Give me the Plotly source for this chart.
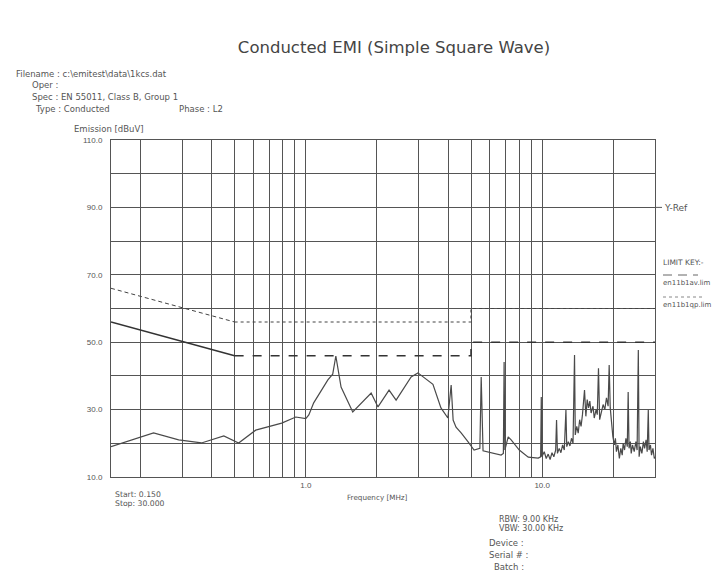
import plotly.graph_objects as go

# ---------------- data ----------------
emi_freq = [0.150, 0.227, 0.29, 0.362, 0.45, 0.52, 0.614, 0.791, 0.907, 1.0, 1.03, 1.08, 1.24, 1.30, 1.34,
            1.41, 1.58, 1.89, 2.02, 2.25, 2.41, 2.79, 2.98, 3.45, 3.73, 3.99, 4.12, 4.20, 4.32, 4.54, 4.86,
            5.15, 5.45, 5.52, 5.62, 6.26, 6.70, 6.85, 6.90, 6.95, 7.18, 7.39, 8.0, 8.73, 9.62, 9.85, 9.91,
            9.97, 10.2, 10.4, 10.6, 10.8, 11.0, 11.2, 11.4, 11.5, 11.6, 11.8, 12.0, 12.2, 12.4, 12.6, 12.7,
            12.9, 13.1, 13.3, 13.5, 13.7, 13.8, 14.0, 14.2, 14.4, 14.6, 14.8, 15.1, 15.3, 15.5, 15.7, 15.9,
            16.1, 16.4, 16.6, 16.9, 17.1, 17.3, 17.5, 17.8, 18.1, 18.4, 18.7, 19.0, 19.2, 19.4, 19.6, 19.9,
            20.2, 20.4, 20.6, 20.9, 21.2, 21.5, 21.8, 22.0, 22.3, 22.6, 22.9, 23.1, 23.3, 23.6, 23.8, 24.1,
            24.5, 24.9, 25.2, 25.5, 25.7, 26.0, 26.4, 26.8, 27.1, 27.5, 27.8, 28.1, 28.3, 28.7, 29.0, 29.4,
            29.8, 30.0]
emi_dbuv = [19.0, 23.1, 21.0, 20.1, 22.2, 20.1, 23.9, 26.0, 27.8, 27.3, 28.4, 32.0, 38.8, 40.5, 45.9,
            36.7, 29.3, 34.9, 30.8, 35.8, 32.8, 39.7, 40.9, 37.5, 30.5, 27.5, 37.3, 26.9, 24.8, 23.1, 20.4,
            18.0, 18.5, 39.7, 17.8, 17.1, 16.5, 17.0, 44.1, 18.0, 21.9, 21.0, 18.0, 15.9, 15.6, 16.0, 33.7,
            16.0, 17.5, 15.5, 16.8, 15.2, 17.2, 16.0, 18.0, 26.9, 17.0, 18.5, 17.2, 19.5, 18.0, 29.9, 19.0,
            20.5, 19.2, 21.5, 20.0, 46.2, 22.5, 25.0, 23.0, 27.0, 25.0, 28.5, 35.8, 28.0, 33.0, 30.5, 32.5,
            29.0, 31.0, 27.5, 30.0, 28.5, 42.3, 27.0, 29.5, 31.5, 30.0, 33.5, 31.0, 43.2, 30.5, 27.0, 22.0,
            19.5, 21.5, 17.5, 19.5, 15.5, 18.5, 16.5, 20.0, 18.0, 21.5, 19.0, 35.2, 18.5, 20.5, 17.0, 19.5,
            17.5, 20.5, 18.0, 47.7, 16.0, 19.0, 17.0, 20.5, 18.5, 21.0, 17.5, 29.9, 18.0, 19.5, 16.5, 18.5,
            15.5, 16.0]

qp_slope_freq = [0.15, 0.5]
qp_slope_db = [66, 56]
qp_flat_freq = [0.5, 5, 5, 30]
qp_flat_db = [56, 56, 60, 60]
av_slope_freq = [0.15, 0.5]
av_slope_db = [56, 46]
av_flat_freq = [0.5, 5, 5, 30]
av_flat_db = [46, 46, 50, 50]

x_grid_vals = [0.2, 0.3, 0.4, 0.5, 0.6, 0.7, 0.8, 0.9, 1, 2, 3, 4, 5, 6, 7, 8, 9, 10, 20, 30]
x_grid_text = ["", "", "", "", "", "", "", "", "1.0", "", "", "", "", "", "", "", "", "10.0", "", ""]
y_grid_vals = [10, 20, 30, 40, 50, 60, 70, 80, 90, 100, 110]
y_grid_text = ["10.0", "", "30.0", "", "50.0", "", "70.0", "", "90.0", "", "110.0"]
y_ref_level = 90

# ---------------- layout helpers ----------------
L, R, T, B = 111, 655, 140, 477
W, H = 718, 576


def px(x):
    return (x - L) / (R - L)


def py(y):
    return (B - y) / (B - T)


TXT = "#555555"
FONT = "Liberation Sans, Arial, sans-serif"
WIDE = "DejaVu Sans, sans-serif"

fig = go.Figure()
fig.add_trace(go.Scatter(x=emi_freq, y=emi_dbuv, mode="lines",
                         line=dict(color="#4a4a4a", width=1.2)))
fig.add_trace(go.Scatter(x=qp_slope_freq, y=qp_slope_db, mode="lines",
                         line=dict(color="#444444", width=1, dash="4px,3px")))
fig.add_trace(go.Scatter(x=qp_flat_freq, y=qp_flat_db, mode="lines",
                         line=dict(color="#444444", width=1.2, dash="dot")))
fig.add_trace(go.Scatter(x=av_slope_freq, y=av_slope_db, mode="lines",
                         line=dict(color="#333333", width=1.6)))
fig.add_trace(go.Scatter(x=av_flat_freq, y=av_flat_db, mode="lines",
                         line=dict(color="#333333", width=1.6, dash="9px,9px")))

fig.update_layout(
    width=W, height=H,
    margin=dict(l=L, r=W - R, t=T, b=H - B, pad=0),
    paper_bgcolor="white", plot_bgcolor="white",
    showlegend=False,
    font=dict(family=FONT, size=8, color=TXT),
    title=dict(text="Conducted EMI (Simple Square Wave)", x=394 / W, xref="container",
               xanchor="center", y=1 - 47 / H, yanchor="middle",
               font=dict(family=WIDE, size=16.5, color="#444444")),
)
fig.update_xaxes(type="log", range=[-0.8239, 1.4771], tickvals=x_grid_vals, ticktext=x_grid_text,
                 showgrid=True, gridcolor="#555555", gridwidth=1, zeroline=False,
                 showline=True, linecolor="#555555", linewidth=1, mirror=True,
                 ticks="", tickfont=dict(size=8, color=TXT))
fig.update_yaxes(range=[10, 110], tickvals=y_grid_vals, ticktext=y_grid_text,
                 showgrid=True, gridcolor="#555555", gridwidth=1, zeroline=False,
                 showline=True, linecolor="#555555", linewidth=1, mirror=True,
                 ticks="", ticklabelstandoff=6, tickfont=dict(size=8, color=TXT))

ann = []


def text(x, y, s, size=8.5, anchor="left"):
    ann.append(dict(x=px(x), y=py(y), xref="paper", yref="paper", text=s, showarrow=False,
                    xanchor=anchor, yanchor="middle", font=dict(size=size, color=TXT, family=WIDE)))


text(14, 74, "Filename : c:\\emitest\\data\\1kcs.dat")
text(30, 85, "Oper :")
text(30, 97, "Spec : EN 55011, Class B, Group 1")
text(33, 109, "Type : Conducted")
text(177, 109, "Phase : L2")
text(72, 129, "Emission [dBuV]")
text(113, 494, "Start: 0.150", 7.7)
text(113, 503, "Stop: 30.000", 7.7)
text(345, 497, "Frequency [MHz]", 7.2)
text(497, 519, "RBW: 9.00 KHz", 8)
text(497, 528, "VBW: 30.00 KHz", 8)
text(487, 543, "Device :")
text(487, 555, "Serial # :")
text(492, 567, "Batch :")
text(662, 208, "Y-Ref", 9)
text(661, 262, "LIMIT KEY:-", 7.5)
text(661, 283, "en11b1av.lim", 7)
text(661, 305, "en11b1qp.lim", 7)
fig.update_layout(annotations=ann)

shapes = [
    dict(type="line", xref="paper", yref="y", x0=1.0, x1=px(662), y0=y_ref_level, y1=y_ref_level,
         line=dict(color="#555555", width=1)),
    dict(type="line", xref="paper", yref="paper", x0=px(663), x1=px(698), y0=py(275), y1=py(275),
         line=dict(color="#666666", width=1, dash="9px,6px")),
    dict(type="line", xref="paper", yref="paper", x0=px(663), x1=px(705), y0=py(297), y1=py(297),
         line=dict(color="#888888", width=1, dash="dot")),
]
fig.update_layout(shapes=shapes)

fig.write_html("out.html")
